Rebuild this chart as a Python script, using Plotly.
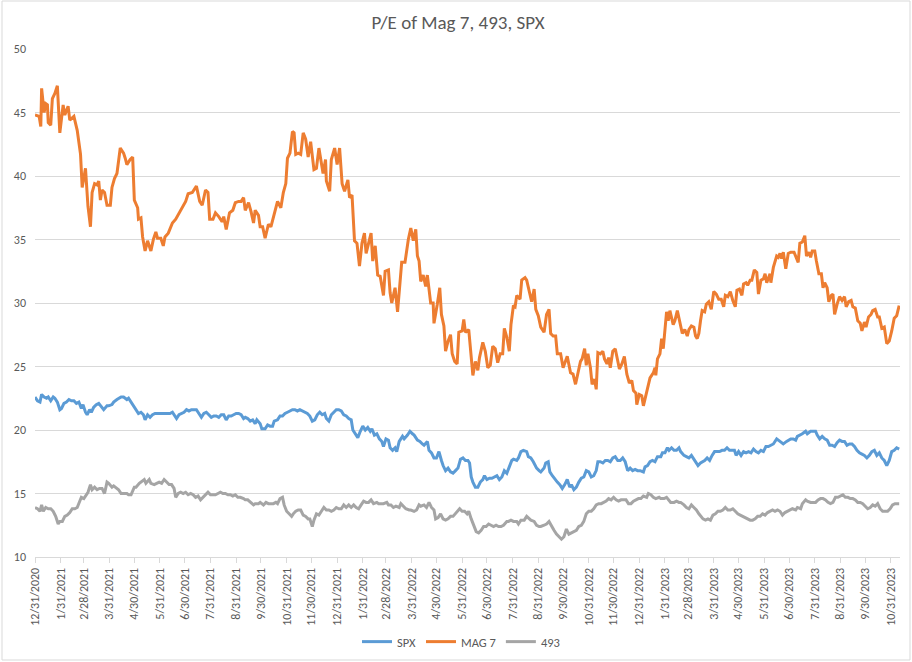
import pandas as pd
import plotly.graph_objects as go

BASE_DATE = "2020-12-31"

# ---- MAG 7 (days after 12/31/2020, P/E) ----
mag7_days = [0, 5, 7, 8, 11, 13, 15, 16, 19, 21, 24, 27, 30, 34, 36, 40, 42, 47, 51, 55, 57, 61, 64, 67, 69, 72, 75, 77, 79, 81,
             84, 87, 91, 93, 96, 99, 103, 107, 109, 111, 115, 118, 120, 124, 125, 128, 130, 133, 136, 140, 143, 146, 148, 152,
             155, 157, 161, 166, 170, 174, 178, 182, 185, 190, 195, 199, 202, 206, 209, 211, 215, 218, 222, 226, 228, 231, 235,
             239, 242, 246, 249, 252, 254, 258, 261, 264, 266, 270, 272, 275, 278, 282, 285, 289, 293, 297, 300, 303, 305, 308,
             311, 313, 315, 318, 321, 324, 327, 330, 333, 337, 340, 343, 346, 348, 351, 352, 356, 358, 362, 365, 368, 371, 374,
             378, 380, 383, 386, 389, 392, 395, 398, 400, 403, 406, 408, 411, 414, 417, 421, 423, 427, 429, 431, 435, 438, 441,
             443, 447, 449, 451, 454, 457, 460, 462, 464, 466, 469, 472, 474, 478, 481, 482, 486, 489,
             491, 494, 496, 499, 502, 504, 507, 510, 512, 516, 518, 520, 524, 527,
             529, 532, 535, 537, 541, 544, 547, 550, 553, 556, 559, 562, 565, 567, 570, 573, 575, 578, 580, 582, 586, 588, 592,
             594, 598, 600, 603, 605, 608, 611, 615, 618, 621, 623, 626, 629, 631, 635, 638, 641, 643, 647, 650, 653, 656, 659,
             661, 664, 666, 668, 671, 673, 676, 678, 680, 683, 686, 688, 691, 693, 695, 698, 701, 703, 706, 709, 712, 715, 718,
             721, 723, 726, 727, 730, 733, 735, 738, 741, 743, 747, 749, 750, 752, 755, 757, 759, 763, 765, 767, 771, 773, 776,
             780, 782, 785, 788, 790, 793,
             796, 798, 800, 802, 804, 806, 809, 811, 814, 817, 820, 823, 826, 829, 832, 834, 837, 840, 843, 846, 848, 851, 854,
             856, 859, 861, 864, 866, 869, 872, 874, 877, 880, 882, 884, 888, 889, 892, 896, 898, 900, 902, 904, 907, 910, 913,
             917, 920, 922, 924, 927, 930, 932, 935, 937, 939, 942, 944, 947, 950, 952, 954, 957, 959, 962, 964, 966, 969, 972,
             975, 978, 980, 983, 986, 988, 991, 994, 997, 999, 1002, 1004, 1007, 1010, 1012, 1015, 1018, 1020, 1023, 1026, 1029,
             1032, 1035, 1038, 1041, 1043, 1044]
mag7_pe = [44.8, 44.7, 43.9, 46.9, 45.0, 45.7, 45.6, 44.2, 44.0, 46.1, 46.5, 47.1, 43.4, 45.6, 44.8, 45.5, 44.4, 44.7, 43.6, 41.7,
           39.1, 40.6, 37.6, 36.0, 38.7, 39.4, 39.3, 39.6, 38.1, 38.9, 38.7, 37.7, 37.7, 39.1, 39.8, 40.2, 42.2, 41.8, 41.4, 40.9,
           41.3, 41.5, 38.1, 37.5, 36.6, 36.7, 35.2, 34.1, 34.9, 34.1, 35.0, 35.6, 35.1, 35.1, 34.5, 35.2, 35.5, 36.3, 36.6, 37.1,
           37.6, 38.0, 38.6, 38.7, 39.2, 38.0, 37.7, 38.9, 38.7, 36.6, 36.6, 37.1, 36.8, 36.4, 36.8, 35.8, 37.1, 37.3, 37.9, 38.0,
           38.0, 38.3, 37.3, 37.9, 37.2, 36.3, 37.3, 36.9, 36.0, 36.0, 35.1, 36.2, 36.0, 37.1, 38.0, 37.5, 38.7, 39.4, 41.4, 41.8,
           43.5, 43.4, 41.7, 41.8, 41.7, 43.4, 42.9, 41.5, 42.7, 40.5, 40.6, 42.2, 40.9, 40.2, 41.3, 39.6, 38.8, 41.3, 42.2, 40.9,
           42.2, 39.4, 38.8, 39.7, 38.3, 38.5, 34.9, 34.7, 32.9, 34.7, 35.5, 33.9, 34.7, 35.5, 33.3, 34.5, 32.2, 32.1, 30.6, 32.5,
           32.6, 30.8, 30.0, 31.2, 29.3, 31.8, 33.2, 33.2, 34.2, 35.0, 35.9, 34.9, 35.8, 33.7, 33.3, 31.7, 32.2, 31.3, 32.2, 30.0,
           30.0, 28.4, 29.9, 31.2,
           29.1, 28.2, 26.2, 27.0, 27.5, 26.0, 25.4, 25.2, 27.7, 27.8, 28.7, 27.7, 27.9, 26.0,
           24.3, 25.4, 24.7, 25.7, 26.9, 26.2, 24.9, 25.1, 26.6, 26.4, 25.3, 26.0, 26.0, 28.0, 27.3, 26.2, 28.3, 29.8, 29.7, 30.6,
           30.3, 31.8, 32.0, 31.8, 30.6, 30.1, 31.1, 29.5, 29.0, 28.1, 27.7, 29.1, 29.5, 27.6, 27.4, 27.4, 26.0, 26.0, 24.9, 25.4,
           25.8, 24.5, 24.4, 23.6, 24.5, 25.4, 25.6, 26.4, 25.1, 26.0, 24.9, 23.6, 24.0, 23.2, 26.1, 26.0, 26.2, 25.6, 25.2, 25.7,
           24.9, 26.2, 26.4, 25.8, 24.8, 25.2, 25.8, 24.4, 23.7, 23.9, 23.1, 22.9, 22.0, 22.8, 22.7, 21.9, 22.8, 23.5, 24.1, 24.5,
           24.9, 24.3, 25.6, 26.0, 27.2, 26.4, 29.3, 28.6, 29.4, 28.3, 28.6, 29.4, 28.3, 27.6, 27.9, 27.4, 27.9, 28.2,
           28.1, 27.4, 27.2, 27.6, 28.6, 29.4, 29.3, 29.9, 30.1, 29.5, 30.9, 30.7, 30.3, 30.3, 29.7, 30.6, 30.5, 30.9, 30.2, 29.7,
           31.0, 31.1, 30.6, 31.5, 31.6, 31.4, 31.8, 31.8, 32.6, 32.4, 30.7, 31.8, 31.9, 32.3, 31.6, 32.3, 31.6, 32.8, 33.7, 33.6,
           33.9, 33.5, 34.0, 32.7, 33.9, 34.0, 34.0, 33.5, 33.2, 34.7, 34.8, 35.3, 33.7, 34.0, 33.6, 34.1, 34.1, 33.3, 32.3, 32.3,
           31.2, 31.6, 31.2, 30.1, 30.6, 30.7, 29.1, 29.9, 30.5, 30.2, 30.5, 29.7, 30.1, 30.2, 29.7, 29.6, 28.6, 28.4, 27.8, 28.5,
           28.1, 28.9, 29.1, 29.4, 29.5, 28.9, 28.9, 28.0, 28.1, 26.8, 27.0, 27.8, 28.8, 29.0, 29.5, 29.8]

# ---- SPX ----
spx_days = [0, 3, 6, 8, 11, 14, 16, 19, 22, 24, 27, 30, 32, 35, 38, 41, 44, 47, 50, 53, 56, 58, 61, 63, 66, 68, 71, 74, 77, 80,
            83, 87, 89, 93, 95, 99, 101, 104, 107, 111, 113, 116, 119, 122, 125, 128, 131, 133, 136, 139, 142, 145, 148, 151,
            154, 157, 160, 163, 166, 169, 171, 174, 177, 180, 183, 186, 189, 192, 195, 198, 201, 204, 207, 210, 213, 216, 219,
            222, 225, 228, 231, 234, 237, 240, 243, 246, 249, 252, 254, 257, 260, 263, 266, 268, 272, 274, 278, 281, 284, 287,
            289, 293, 296, 299, 302, 305, 308, 311, 314, 317, 320, 323, 326, 329, 332, 335, 338, 341, 344, 347, 350, 352, 355,
            358, 361, 364, 367, 370, 373, 376, 379, 382, 384, 387, 390, 393, 396, 399, 402, 405, 407, 410, 413, 416, 419, 421,
            424, 427, 429, 432, 435, 437, 440, 444, 446, 450, 453, 456, 458, 462, 465, 468, 470, 474, 476, 479, 482, 485, 488,
            491, 493, 496, 499, 502, 505, 508, 511,
            514, 517, 520, 523, 525, 527, 529, 532, 535, 538, 541, 543, 546, 549, 552, 555, 558, 561, 564, 567, 570, 573, 576,
            578, 582, 584, 587, 590, 594, 596, 599, 602, 606, 609, 611, 615, 617, 620, 622, 625, 627, 631, 634, 637, 640, 643,
            646, 648, 651, 654, 657, 660, 663, 666, 669, 672, 675, 678, 680, 683, 686, 689, 692, 695, 698, 701, 704, 707, 710,
            713, 716, 719, 722, 725, 728, 731, 735, 737, 740, 743, 746, 749, 752, 756, 758, 761, 764, 766, 769, 772, 775, 778,
            780, 784, 787, 790, 793, 795, 798, 801, 804, 807, 809, 812, 815, 818, 821, 824, 827, 830, 833, 836, 839, 842, 845,
            847, 850, 853, 856, 859, 862, 865, 868, 871, 874, 877, 880, 883, 886, 889, 892, 896, 898, 901, 904, 908, 910, 913,
            916, 919, 921, 925, 927, 931, 933, 937, 940, 943, 945, 948, 951, 954, 957, 960, 963, 966, 969, 972, 975, 978, 981,
            984, 987, 990, 993, 996, 999, 1002, 1005, 1008, 1011, 1014, 1017, 1020, 1023, 1026, 1029, 1032, 1035, 1038, 1041,
            1044]
spx_pe = [22.6, 22.3, 22.2, 22.8, 22.6, 22.5, 22.6, 22.3, 22.6, 22.5, 22.2, 21.6, 21.7, 22.1, 22.2, 22.4, 22.3, 22.3, 22.1, 22.2,
          21.7, 22.0, 21.4, 21.2, 21.6, 21.4, 21.8, 22.0, 22.1, 21.8, 21.6, 21.9, 21.9, 22.0, 22.2, 22.4, 22.5, 22.6, 22.6, 22.4,
          22.5, 22.2, 21.8, 21.6, 21.3, 21.4, 21.2, 20.8, 21.2, 21.0, 21.2, 21.3, 21.3, 21.3, 21.3, 21.3, 21.3, 21.3, 21.4, 21.1,
          20.9, 21.2, 21.3, 21.4, 21.6, 21.5, 21.6, 21.6, 21.6, 21.3, 21.0, 21.3, 21.4, 21.2, 21.0, 21.1, 21.1, 21.0, 21.2, 21.2,
          20.8, 21.1, 21.1, 21.2, 21.3, 21.3, 21.2, 20.9, 21.0, 20.9, 20.7, 20.8, 20.5, 20.8, 20.5, 20.1, 20.1, 20.4, 20.3, 20.3,
          20.7, 20.8, 21.1, 21.1, 21.3, 21.4, 21.5, 21.6, 21.6, 21.5, 21.6, 21.5, 21.4, 21.3, 21.1, 20.7, 20.8, 21.2, 21.4, 21.2,
          21.3, 20.9, 20.7, 21.2, 21.4, 21.6, 21.6, 21.5, 21.2, 21.1, 20.9, 20.8, 20.0, 19.7, 19.4, 19.9, 20.3, 20.0, 20.2, 19.9,
          20.1, 19.6, 19.7, 19.3, 19.1, 18.7, 19.3, 19.2, 18.6, 18.4, 18.6, 18.3, 19.1, 19.5, 19.3, 19.6, 19.9, 19.7, 19.6, 19.2,
          19.1, 18.9, 18.8, 19.1, 18.4, 18.2, 17.8, 17.8, 18.3, 17.6, 17.2, 16.8, 17.0, 16.7, 16.6, 16.8, 17.0,
          17.7, 17.8, 17.6, 17.6, 17.4, 16.3, 15.9, 15.5, 15.5, 15.9, 16.1, 16.4, 16.1, 16.2, 16.2, 16.3, 16.4, 16.1, 16.3, 16.8,
          16.6, 17.1, 17.6, 17.7, 17.6, 17.8, 18.3, 18.4, 18.3, 17.9, 17.8, 17.5, 17.0, 16.8, 16.7, 17.0, 17.4, 17.5, 16.7, 16.4,
          16.2, 15.9, 15.7, 15.4, 15.7, 16.1, 15.5, 15.7, 15.3, 15.5, 15.9, 16.2, 16.3, 16.8, 16.7, 16.3, 16.4, 16.8, 17.5, 17.5,
          17.4, 17.6, 17.6, 17.5, 17.8, 17.9, 17.6, 17.6, 17.8, 17.5, 16.8, 17.0, 16.8, 16.9, 16.8, 16.8, 16.7, 17.1, 17.2, 17.5,
          17.6, 17.5, 17.9, 17.9, 18.2, 18.2, 18.6, 18.4, 18.6, 18.4, 18.4, 18.6, 18.3, 18.0, 17.9, 17.8, 18.0, 17.8, 17.5, 17.2,
          17.4, 17.5, 17.6, 17.8, 17.6, 18.0, 18.3, 18.3, 18.3, 18.4, 18.4, 18.6, 18.4, 18.4, 18.4, 18.0, 18.3, 18.0, 18.3, 18.2,
          18.3, 18.2, 18.5, 18.3, 18.2, 18.4, 18.3, 18.7, 18.7, 18.8, 18.9, 19.3, 19.2, 19.1, 18.9, 19.1, 19.2, 19.3, 19.3, 19.2,
          19.5, 19.6, 19.7, 19.9, 19.7, 19.9, 19.9, 19.9, 19.6, 19.3, 19.5, 19.3, 19.2, 18.8, 18.8, 18.7, 19.0, 19.2, 19.1, 19.1,
          18.8, 18.9, 18.9, 18.7, 18.4, 18.2, 18.1, 18.0, 17.8, 18.0, 18.3, 18.4, 18.0, 18.2, 17.8, 17.6, 17.2, 17.6, 18.3, 18.4,
          18.6, 18.5]

# ---- 493 ----
s493_days = [0, 3, 6, 8, 10, 13, 16, 19, 22, 25, 28, 30, 33, 36, 39, 42, 45, 48, 51, 54, 56, 59, 62, 64, 67, 69, 72, 75, 78, 81,
             84, 87, 89, 93, 95, 99, 101, 104, 107, 111, 113, 116, 120, 122, 126, 128, 132, 134, 138, 140, 144, 147, 150, 153,
             156, 159, 162, 165, 168, 170, 173, 176, 179, 182, 185, 188, 191, 194, 197, 200, 203, 206, 209, 212, 215, 218, 221,
             224, 227, 230, 233, 236, 239, 242, 245, 248, 252, 254, 257, 260, 264, 266, 270, 272, 276, 279, 282, 285, 288, 291,
             293, 296, 299, 301, 304, 307, 310, 312, 315, 318, 321, 324, 327, 330, 332, 335, 337, 340, 343, 346, 349, 352, 355,
             358, 361, 364, 367, 370, 373, 376, 379, 382, 385, 388, 391, 394, 397, 400, 403, 406, 409, 413, 415, 419, 421, 425,
             427, 430, 433, 436, 440, 442, 446, 448, 452, 454, 458, 461, 464, 466, 470, 473, 476, 479, 482, 484, 487, 490, 493,
             496, 499, 502, 505, 508, 511, 513,
             516, 519, 522, 524, 527, 530, 533, 536, 539, 542, 545, 548, 551, 554, 557, 560, 563, 566, 570, 572, 575, 578, 582,
             584, 587, 591, 594, 597, 599, 603, 606, 609, 611, 615, 618, 621, 624, 627, 630, 633, 636, 639, 642, 645, 648, 651,
             654, 657, 660, 663, 666, 669, 672, 675, 678, 681, 684, 687, 690, 693, 696, 699, 702, 705, 708, 711, 714, 717, 720,
             723, 726, 729, 732, 735, 739, 741, 744, 747, 750, 754, 756, 760, 763, 766, 768, 772, 775, 778, 780, 784, 787, 790,
             793, 796, 799, 802, 805, 807, 810, 813, 816, 819, 822, 825, 828, 831, 834, 837, 840, 843, 846, 849, 852, 855, 858,
             861, 864, 867, 870, 873, 876, 879, 882, 885, 888, 891, 894, 897, 900, 903, 906, 909, 912, 915, 919, 921, 925, 927,
             931, 933, 937, 939, 943, 946, 949, 952, 955, 958, 961, 964, 967, 970, 973, 976, 979, 982, 985, 988, 991, 994, 997,
             1000, 1003, 1006, 1009, 1012, 1015, 1018, 1021, 1024, 1027, 1030, 1033, 1036, 1039, 1042, 1044]
s493_pe = [13.9, 13.8, 13.6, 14.1, 13.6, 13.9, 13.8, 13.8, 13.6, 13.2, 12.6, 12.8, 12.8, 13.2, 13.3, 13.5, 13.8, 13.8, 13.9, 14.3,
           14.7, 14.6, 14.9, 15.1, 15.7, 15.3, 15.5, 15.3, 15.4, 15.4, 15.0, 15.9, 15.8, 15.5, 15.6, 15.4, 15.3, 15.0, 15.0, 15.0,
           14.9, 14.9, 15.5, 15.5, 15.8, 15.9, 16.1, 15.8, 16.1, 15.8, 15.7, 15.8, 15.9, 15.8, 16.1, 15.9, 15.7, 15.7, 15.4, 14.7,
           15.0, 15.1, 15.0, 15.1, 14.9, 15.0, 14.9, 14.7, 14.8, 14.5, 14.7, 14.9, 15.1, 14.9, 14.9, 14.9, 15.0, 15.1, 15.0, 15.0,
           14.9, 14.9, 14.8, 14.9, 14.7, 14.7, 14.6, 14.5, 14.5, 14.3, 14.1, 14.2, 14.2, 14.3, 14.1, 14.3, 14.2, 14.2, 14.2, 14.3,
           14.2, 14.6, 14.7, 14.1, 13.6, 13.4, 13.2, 13.4, 13.6, 13.7, 13.7, 13.3, 13.2, 13.0, 13.0, 12.4, 12.9, 13.4, 13.3, 13.6,
           13.9, 13.7, 13.7, 13.6, 13.7, 13.9, 13.8, 13.8, 14.1, 13.9, 14.1, 13.9, 14.1, 13.9, 13.8, 14.1, 14.4, 14.3, 14.3, 14.5,
           14.2, 14.3, 14.2, 14.2, 14.2, 14.3, 14.1, 14.1, 13.9, 14.0, 13.9, 14.2, 13.9, 13.8, 13.7, 13.7, 13.6, 13.7, 14.1, 14.0,
           14.1, 13.9, 14.3, 13.9, 13.7, 13.0, 13.1, 13.4, 13.0, 12.9, 13.0, 13.2, 13.2, 13.4, 13.6, 13.8,
           13.6, 13.6, 13.4, 13.6, 13.0, 12.5, 12.0, 11.9, 12.1, 12.4, 12.4, 12.6, 12.5, 12.4, 12.5, 12.4, 12.4, 12.5, 12.8, 12.8,
           12.9, 12.8, 12.8, 12.6, 12.9, 12.9, 13.2, 13.0, 12.9, 12.8, 12.5, 12.4, 12.4, 12.5, 12.6, 12.8, 12.4, 12.1, 11.8, 11.6,
           11.4, 11.6, 12.2, 11.8, 11.9, 12.0, 12.1, 12.4, 12.5, 12.8, 13.4, 13.6, 13.6, 13.8, 14.1, 14.2, 14.2, 14.3, 14.4, 14.6,
           14.5, 14.7, 14.5, 14.4, 14.5, 14.5, 14.5, 14.2, 14.2, 14.4, 14.5, 14.6, 14.6, 14.8, 14.7, 15.0, 14.9, 14.7, 14.6, 14.7,
           14.6, 14.6, 14.7, 14.5, 14.3, 14.3, 14.4, 14.3, 14.3, 14.1, 13.9, 13.8, 14.1, 13.9, 13.7, 13.4, 13.2, 13.0, 12.9, 13.0,
           12.9, 13.3, 13.4, 13.6, 13.6, 13.7, 13.9, 13.7, 13.7, 13.8, 13.6, 13.4, 13.3, 13.2, 13.1, 13.0, 12.9, 12.9, 13.0, 13.2,
           13.2, 13.4, 13.3, 13.5, 13.6, 13.7, 13.6, 13.7, 13.6, 13.3, 13.5, 13.6, 13.7, 13.8, 13.7, 13.9, 13.8, 14.2, 14.5, 14.4,
           14.3, 14.3, 14.3, 14.5, 14.6, 14.6, 14.5, 14.3, 14.2, 14.3, 14.7, 14.7, 14.8, 14.9, 14.7, 14.7, 14.6, 14.6, 14.5, 14.3,
           14.3, 14.2, 14.0, 13.8, 13.9, 14.1, 14.0, 14.2, 13.8, 13.6, 13.6, 13.6, 13.8, 14.1, 14.2, 14.2, 14.2]

tick_labels = ["12/31/2020", "1/31/2021", "2/28/2021", "3/31/2021", "4/30/2021", "5/31/2021", "6/30/2021", "7/31/2021",
               "8/31/2021", "9/30/2021", "10/31/2021", "11/30/2021", "12/31/2021", "1/31/2022", "2/28/2022", "3/31/2022",
               "4/30/2022", "5/31/2022", "6/30/2022", "7/31/2022", "8/31/2022", "9/30/2022", "10/31/2022", "11/30/2022",
               "12/31/2022", "1/31/2023", "2/28/2023", "3/31/2023", "4/30/2023", "5/31/2023", "6/30/2023", "7/31/2023",
               "8/31/2023", "9/30/2023", "10/31/2023"]
y_ticks = [10, 15, 20, 25, 30, 35, 40, 45, 50]

base = pd.Timestamp(BASE_DATE)


def to_dates(days):
    return base + pd.to_timedelta(days, unit="D")


tick_dates = pd.to_datetime(tick_labels, format="%m/%d/%Y")

FONT = "Carlito, Calibri, Lato, 'Open Sans', sans-serif"
TXT = "#595959"
GRID = "#D9D9D9"

fig = go.Figure()
series = [("SPX", spx_days, spx_pe, "#5B9BD5"),
          ("MAG 7", mag7_days, mag7_pe, "#ED7D31"),
          ("493", s493_days, s493_pe, "#A5A5A5")]
for name, d, v, c in series:
    fig.add_trace(go.Scatter(x=to_dates(d), y=v, name=name, mode="lines",
                             line=dict(color=c, width=3)))

fig.update_layout(
    width=912, height=662,
    margin=dict(l=35, r=12, t=49, b=105, autoexpand=False),
    paper_bgcolor="white", plot_bgcolor="white",
    font=dict(family=FONT, color=TXT, size=12),
    title=dict(text="P/E of Mag 7, 493, SPX", x=458 / 912, xref="container", xanchor="center",
               y=1 - 22 / 662, yanchor="middle", font=dict(size=19, color=TXT, family=FONT)),
    showlegend=True,
    legend=dict(orientation="h", x=461 / 912, xref="container", xanchor="center",
                y=1 - 642 / 662, yref="container", yanchor="middle",
                font=dict(size=12.5, color=TXT), itemwidth=30, traceorder="normal"),
    xaxis=dict(type="date", range=[base, base + pd.Timedelta(days=1045)], automargin=False,
               tickmode="array", tickvals=tick_dates, ticktext=tick_labels, tickangle=-90,
               showgrid=False, showline=True, linecolor=GRID, linewidth=1,
               ticks="outside", ticklen=5, tickcolor=GRID,
               tickfont=dict(size=12, color=TXT), zeroline=False),
    yaxis=dict(range=[10, 50], tickvals=y_ticks, showgrid=True, gridcolor=GRID, gridwidth=1,
               showline=False, zeroline=False, ticks="", ticklabelstandoff=8, automargin=False,
               tickfont=dict(size=12, color=TXT)),
)

# chart-area border like the Excel chart frame
fig.add_shape(type="rect", xref="paper", yref="paper",
              x0=-33 / 865, x1=(910 - 35) / 865, y0=-(660 - 557) / 508, y1=(557 - 1) / 508,
              line=dict(color="#D9D9D9", width=1), fillcolor="rgba(0,0,0,0)", layer="below")

fig.write_html("out.html", config={"displayModeBar": False},
               post_script="document.body.style.margin='0px';document.body.style.overflow='hidden';")
